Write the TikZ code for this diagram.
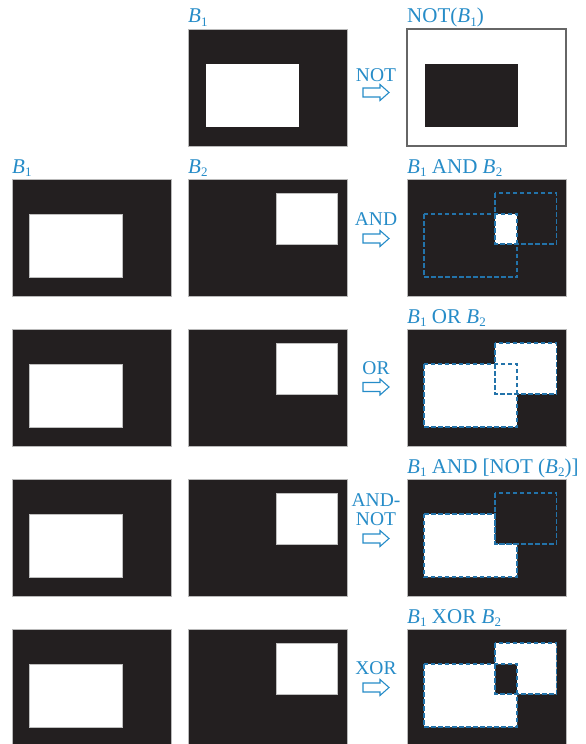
\documentclass[tikz,border=0pt]{standalone}
\usepackage{fontspec}
\setmainfont{Liberation Serif}
\definecolor{boxblack}{HTML}{231F20}
\definecolor{labblue}{RGB}{38,140,200}
\definecolor{dashblue}{RGB}{35,115,170}
\newcommand{\Bv}[1]{\textit{B}\kern0.2pt\raisebox{-3.5pt}{\fontsize{13}{13}\selectfont #1}}
\tikzset{
  panel/.style={fill=boxblack, draw=gray!55, line width=0.6pt},
  whitepanel/.style={fill=white, draw=gray!80!black, line width=1.3pt},
  hole/.style={fill=white, draw=gray!50, line width=0.6pt},
  blob/.style={fill=boxblack, draw=none},
  dashrect/.style={draw=dashblue, line width=1.4pt, dash pattern=on 4.5pt off 2.5pt},
  lab/.style={anchor=base west, inner sep=0pt, text=labblue, font=\fontsize{21}{22}\selectfont},
  oplab/.style={anchor=base, inner sep=0pt, text=labblue, font=\fontsize{19.5}{21}\selectfont},
  blockarrow/.style={draw=labblue, fill=white, line width=1.1pt, line join=miter},
}
\newcommand{\blockarr}[2]{%
  \draw[blockarrow, shift={(#1,#2)}] (-13,-4.5) -- (4,-4.5) -- (4,-8) -- (13,0) -- (4,8) -- (4,4.5) -- (-13,4.5) -- cycle;}
\begin{document}
\begin{tikzpicture}[x=1pt,y=-1pt]
\useasboundingbox (0,0) rectangle (586,744);
\fill[white] (0,0) rectangle (586,744);

% ---------- Row 1: NOT ----------
\begin{scope}[shift={(188,29)}]
  \draw[panel] (0,0) rectangle (159,117);
  \fill[white] (17.5,34.5) rectangle (110.5,98);
\end{scope}
\begin{scope}[shift={(407,29)}]
  \draw[whitepanel] (0,0) rectangle (159,117);
  \fill[blob] (17.5,34.5) rectangle (110.5,98);
\end{scope}
\node[lab] (l1a) at (188,23) {\Bv{1}};
\node[lab] (l1c) at (407,23) {NOT(\Bv{1})};
\node[oplab] (op1) at (376,81) {NOT};
\blockarr{376}{92.5}

% ---------- inputs rows 2-5 ----------
\foreach \t in {179,329,479,629}{
  \begin{scope}[shift={(12,\t)}]
    \draw[panel] (0,0) rectangle (159,117);
    \draw[hole] (17,35) rectangle (110,98);
  \end{scope}
  \begin{scope}[shift={(188,\t)}]
    \draw[panel] (0,0) rectangle (159,117);
    \draw[hole] (88,14) rectangle (149.5,65);
  \end{scope}
}
\node[lab] (l2a) at (12,173) {\Bv{1}};
\node[lab] (l2b) at (188,173) {\Bv{2}};

% ---------- Row 2: AND ----------
\begin{scope}[shift={(407,179)}]
  \draw[panel] (0,0) rectangle (159,117);
  \fill[white] (88,35) rectangle (110,65);
  \draw[dashrect] (17,35) rectangle (110,98);
  \draw[dashrect] (88,14) rectangle (149.5,65);
\end{scope}
\node[lab] (l2c) at (407,173) {\Bv{1} AND \Bv{2}};
\node[oplab] (op2) at (376,225) {AND};
\blockarr{376}{238.5}

% ---------- Row 3: OR ----------
\begin{scope}[shift={(407,329)}]
  \draw[panel] (0,0) rectangle (159,117);
  \fill[white] (17,35) rectangle (110,98);
  \fill[white] (88,14) rectangle (149.5,65);
  \draw[dashrect] (17,35) rectangle (110,98);
  \draw[dashrect] (88,14) rectangle (149.5,65);
\end{scope}
\node[lab] (l3c) at (407,323) {\Bv{1} OR \Bv{2}};
\node[oplab] (op3) at (376,374) {OR};
\blockarr{376}{387}

% ---------- Row 4: AND-NOT ----------
\begin{scope}[shift={(407,479)}]
  \draw[panel] (0,0) rectangle (159,117);
  \fill[white] (17,35) -- (88,35) -- (88,65) -- (110,65) -- (110,98) -- (17,98) -- cycle;
  \draw[dashrect] (17,35) -- (88,35) -- (88,65) -- (110,65) -- (110,98) -- (17,98) -- cycle;
  \draw[dashrect] (88,14) rectangle (149.5,65);
\end{scope}
\node[lab] (l4c) at (407,473) {\Bv{1} AND [NOT (\Bv{2})]};
\node[anchor=center, inner sep=0pt, text=labblue, align=center,
      font=\fontsize{19.5}{18.5}\selectfont] (op4) at (376,509.5) {AND-\\NOT};
\blockarr{376}{538.5}

% ---------- Row 5: XOR ----------
\begin{scope}[shift={(407,629)}]
  \draw[panel] (0,0) rectangle (159,117);
  \fill[white, even odd rule] (17,35) rectangle (110,98) (88,14) rectangle (149.5,65);
  \draw[dashrect] (17,35) rectangle (110,98);
  \draw[dashrect] (88,14) rectangle (149.5,65);
\end{scope}
\node[lab] (l5c) at (407,623) {\Bv{1} XOR \Bv{2}};
\node[oplab] (op5) at (376,674) {XOR};
\blockarr{376}{687.5}
\end{tikzpicture}
\end{document}
